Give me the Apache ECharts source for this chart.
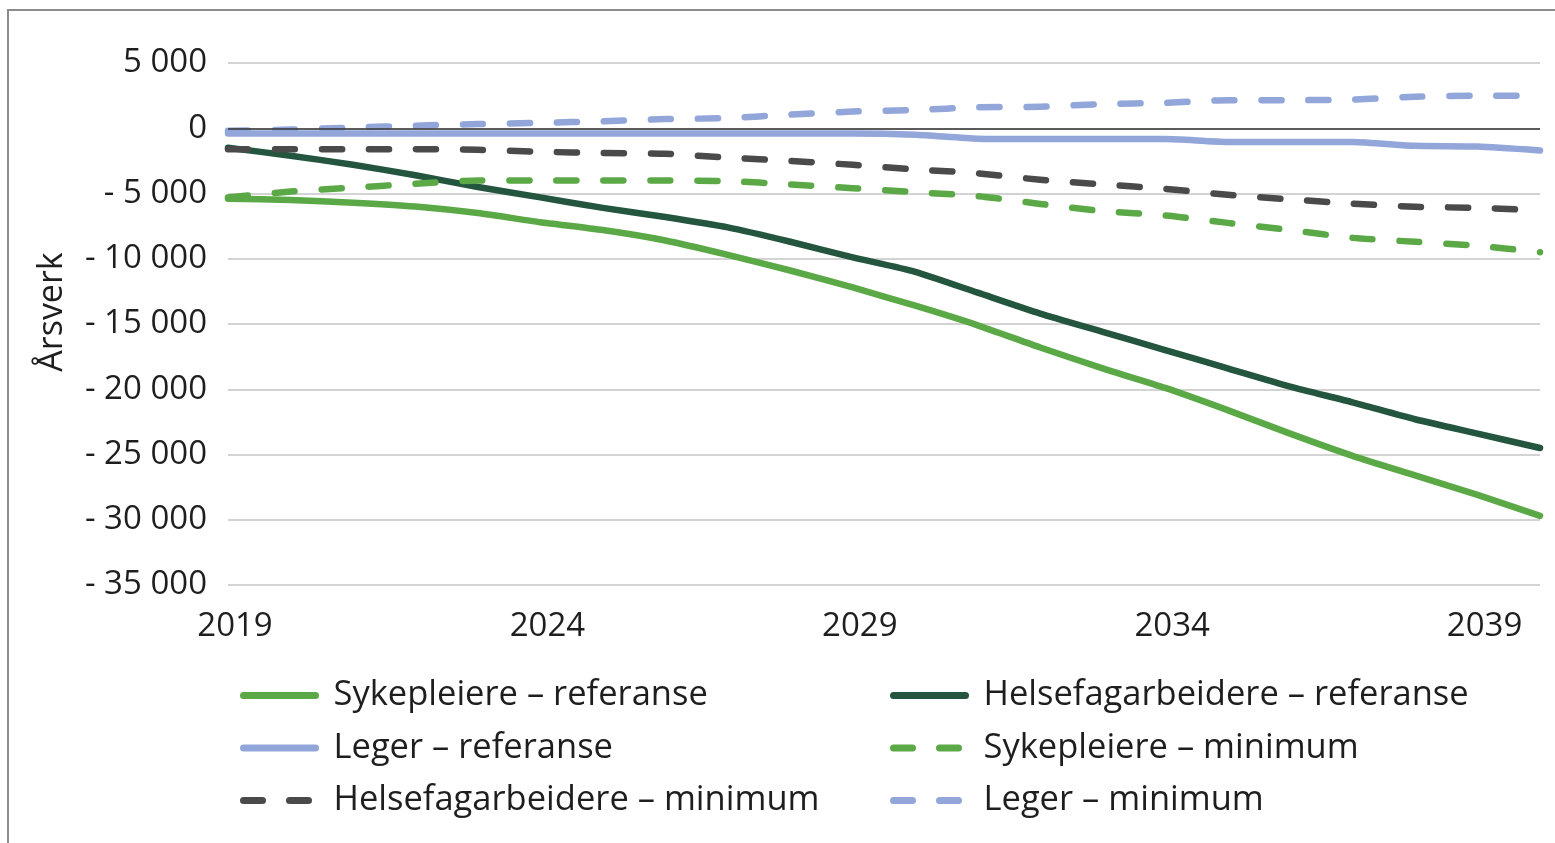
<!DOCTYPE html>
<html>
<head>
<meta charset="utf-8">
<script src="https://cdn.jsdelivr.net/npm/echarts@6/dist/echarts.min.js"></script>
<style>
  html, body { margin: 0; padding: 0; background: #fff; overflow: hidden; }
  #chart { width: 1555px; height: 843px; position: absolute; left: 0; top: 0; }
  #frame { position: absolute; left: 7px; top: 9px; width: 1600px; height: 900px;
           border-left: 2px solid #8c8c8c; border-top: 2px solid #8c8c8c; pointer-events: none; }
</style>
</head>
<body>
<div id="chart"></div>
<div id="frame"></div>
<script>
// ---- Data ----
const years = ['2019','2020','2021','2022','2023','2024','2025','2026','2027','2028','2029',
               '2030','2031','2032','2033','2034','2035','2036','2037','2038','2039','2040'];

const sykepleiereReferanse = [-5400,-5500,-5700,-6000,-6500,-7200,-7800,-8600,-9700,-10900,-12200,
                              -13600,-15100,-16800,-18400,-19900,-21600,-23400,-25100,-26600,-28100,-29700];
const helsefagReferanse    = [-1500,-2100,-2800,-3600,-4500,-5300,-6100,-6800,-7600,-8700,-9900,
                              -11000,-12600,-14200,-15600,-17000,-18400,-19800,-21000,-22300,-23400,-24500];
const legerReferanse       = [-400,-400,-400,-400,-400,-400,-400,-400,-400,-400,-400,
                              -500,-800,-830,-830,-830,-1050,-1050,-1050,-1350,-1400,-1700];
const sykepleiereMinimum   = [-5300,-4850,-4550,-4250,-4000,-4000,-4000,-4000,-4050,-4300,-4600,
                              -4900,-5200,-5800,-6350,-6680,-7250,-7800,-8400,-8700,-9000,-9500];
const helsefagMinimum      = [-1600,-1600,-1600,-1600,-1650,-1800,-1900,-1950,-2250,-2500,-2800,
                              -3150,-3450,-3950,-4300,-4640,-5100,-5450,-5780,-6020,-6100,-6300];
const legerMinimum         = [-200,-100,50,200,320,420,530,700,780,1050,1280,
                              1400,1600,1650,1850,1950,2150,2150,2200,2420,2490,2490];

const seriesNames = ['Sykepleiere – referanse','Helsefagarbeidere – referanse','Leger – referanse',
                     'Sykepleiere – minimum','Helsefagarbeidere – minimum','Leger – minimum'];
// legend reading order: row by row, two columns
const legendOrder = ['Sykepleiere – referanse','Helsefagarbeidere – referanse',
                     'Leger – referanse','Sykepleiere – minimum',
                     'Helsefagarbeidere – minimum','Leger – minimum'];
const yAxisTitle = 'Årsverk';
const yMin = -35000, yMax = 5000, yStep = 5000;

// ---- Style ----
const FONT = '"Open Sans", "Noto Sans", sans-serif';
const TXT = '#1e1e1e';
const cLightGreen = '#5ba946';
const cDarkGreen = '#24563f';
const cBlue = '#92a6d9';
const cGray = '#4a4a4a';
const DASH = [20, 27];

const styles = {
  'Sykepleiere – referanse':      { color: cLightGreen, dashed: false },
  'Helsefagarbeidere – referanse':{ color: cDarkGreen,  dashed: false },
  'Leger – referanse':            { color: cBlue,       dashed: false },
  'Sykepleiere – minimum':        { color: cLightGreen, dashed: true },
  'Helsefagarbeidere – minimum':  { color: cGray,       dashed: true },
  'Leger – minimum':              { color: cBlue,       dashed: true }
};

function fmtY(v) {
  const a = Math.abs(v).toString().replace(/\B(?=(\d{3})+(?!\d))/g, ' ');
  return v < 0 ? '- ' + a : a;
}

function line(name, data) {
  const s = styles[name];
  return {
    name, type: 'line', data, symbol: 'none', smooth: 0.2,
    lineStyle: { color: s.color, width: s.dashed ? 6.5 : 6.5, type: s.dashed ? DASH : 'solid', cap: 'round', join: 'round' },
    itemStyle: { color: s.color },
    emphasis: { disabled: true }
  };
}

const chart = echarts.init(document.getElementById('chart'));

const legends = legendOrder.map((name, i) => {
  const s = styles[name];
  const col = i % 2, row = Math.floor(i / 2);
  return {
    orient: 'horizontal', left: col === 0 ? 235 : 885, top: 673 + row * 52.5,
    itemWidth: 72, itemHeight: 30, selectedMode: false,
    data: [name],
    itemStyle: { color: 'rgba(0,0,0,0)', opacity: 0, borderWidth: 0 },
    lineStyle: { color: s.color, width: 7, type: s.dashed ? [19, 27] : 'solid', cap: 'round', opacity: 1 },
    textStyle: { fontFamily: FONT, fontSize: 34.5, color: TXT, lineHeight: 30, padding: [0, 0, 0, 13] }
  };
});

const series = [
  line(seriesNames[0], sykepleiereReferanse),
  line(seriesNames[1], helsefagReferanse),
  line(seriesNames[2], legerReferanse),
  line(seriesNames[3], sykepleiereMinimum),
  line(seriesNames[4], helsefagMinimum),
  line(seriesNames[5], legerMinimum)
];
series[2].markLine = {
  silent: true, symbol: 'none', label: { show: false },
  lineStyle: { color: '#333', width: 1.5, type: 'solid' },
  data: [{ yAxis: 0 }]
};

chart.setOption({
  animation: false,
  backgroundColor: '#fff',
  grid: { left: 228, right: 15, top: 63, bottom: 843 - 585 },
  xAxis: {
    type: 'category', data: years, boundaryGap: false,
    axisLine: { show: false, onZero: false },
    axisTick: { show: false },
    splitLine: { show: false },
    axisLabel: {
      interval: (i) => i % 5 === 0,
      fontFamily: FONT, fontSize: 33, color: TXT, margin: 25, padding: [0, 0, 0, 14]
    }
  },
  yAxis: {
    type: 'value', min: yMin, max: yMax, interval: yStep,
    axisLine: { show: false }, axisTick: { show: false },
    splitLine: { lineStyle: { color: '#c4c4c4', width: 1.5 } },
    axisLabel: { formatter: fmtY, fontFamily: FONT, fontSize: 33, color: TXT, margin: 21 }
  },
  legend: legends,
  graphic: [{
    type: 'text', x: 52, y: 312, rotation: Math.PI / 2,
    style: { text: yAxisTitle, fontFamily: FONT, fontSize: 34, fill: TXT, align: 'center', verticalAlign: 'middle' }
  }],
  series
});
</script>
</body>
</html>
